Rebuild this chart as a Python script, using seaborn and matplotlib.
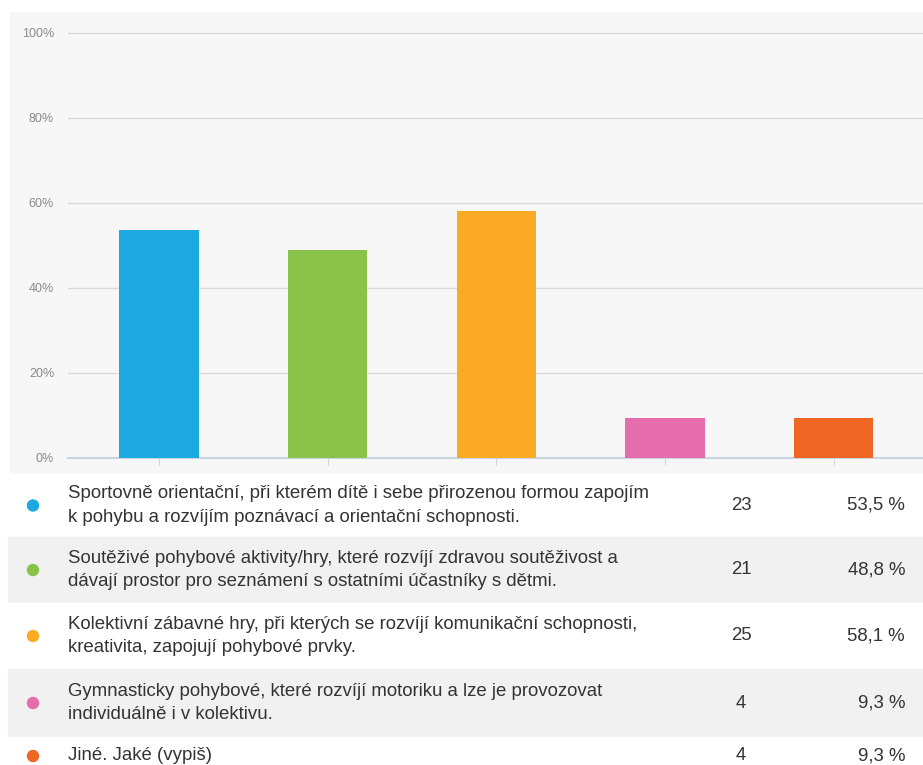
import matplotlib
matplotlib.use("Agg")
import matplotlib.pyplot as plt
import seaborn as sns
import pandas as pd
from matplotlib.patches import Rectangle, Ellipse

# ====== Data ======
answers = [
    "Sportovně orientační, při kterém dítě i sebe přirozenou formou zapojím\nk pohybu a rozvíjím poznávací a orientační schopnosti.",
    "Soutěživé pohybové aktivity/hry, které rozvíjí zdravou soutěživost a\ndávají prostor pro seznámení s ostatními účastníky s dětmi.",
    "Kolektivní zábavné hry, při kterých se rozvíjí komunikační schopnosti,\nkreativita, zapojují pohybové prvky.",
    "Gymnasticky pohybové, které rozvíjí motoriku a lze je provozovat\nindividuálně i v kolektivu.",
    "Jiné. Jaké (vypiš)",
]
counts = [23, 21, 25, 4, 4]
percent = [53.5, 48.8, 58.1, 9.3, 9.3]
percent_labels = ["53,5 %", "48,8 %", "58,1 %", "9,3 %", "9,3 %"]
colors = ["#1ea8e0", "#8bc34a", "#fbaa26", "#e66dac", "#f06725"]
y_ticks = [0, 20, 40, 60, 80, 100]

df = pd.DataFrame({"answer": answers, "percent": percent})

# ====== Figure ======
W, H = 923, 765
fig = plt.figure(figsize=(W / 100, H / 100), dpi=100)
fig.patch.set_facecolor("white")
plt.rcParams["font.family"] = ["Liberation Sans", "DejaVu Sans"]


def fx(px):
    return px / W


def fy(py):
    return 1 - py / H


# grey chart panel (behind the axes)
fig.patches.append(Rectangle((fx(10), fy(474)), fx(913), 462 / H,
                             transform=fig.transFigure, color="#f7f7f7", zorder=-5))

ax = fig.add_axes([fx(68), fy(458), fx(855), (458 - 24) / H])
ax.set_facecolor("none")
sns.barplot(data=df, x="answer", y="percent", hue="answer", palette=colors,
            width=0.47, saturation=1, legend=False, ax=ax, zorder=3)
ax.set_ylim(0, 102)
ax.set_xlim(-0.54, 4.53)
ax.set_yticks(y_ticks)
ax.set_yticklabels([f"{v}%" for v in y_ticks], color="#8a8a8a", fontsize=9)
ax.tick_params(axis="y", length=0, pad=10)
ax.tick_params(axis="x", length=5, color="#cfd8e3", labelbottom=False)
ax.set_xlabel("")
ax.set_ylabel("")
for v in y_ticks[1:]:
    ax.axhline(v, color="#dadada", lw=1, zorder=1)
for s in ["top", "right", "left"]:
    ax.spines[s].set_visible(False)
ax.spines["bottom"].set_color("#c9d4e2")
ax.spines["bottom"].set_linewidth(1.5)

# ====== Table below the chart ======
rows = [(474, 537), (537, 603), (603, 669), (669, 737), (737, 775)]
for i, (top, bottom) in enumerate(rows):
    fill = "#f1f1f1" if i % 2 == 1 else "white"
    fig.patches.append(Rectangle((fx(8), fy(bottom)), fx(915), (bottom - top) / H,
                                 transform=fig.transFigure, color=fill, zorder=-4))
    mid = (top + bottom) / 2 if i < 4 else 756
    fig.patches.append(Ellipse((fx(33), fy(mid)), 11 / W, 11 / H,
                               transform=fig.transFigure, color=colors[i], zorder=2))
    fig.text(fx(68), fy(mid), answers[i], ha="left", va="center", fontsize=13.4,
             color="#333333", linespacing=1.5)
    fig.text(fx(741), fy(mid), str(counts[i]), ha="center", va="center",
             fontsize=13.4, color="#333333")
    fig.text(fx(905), fy(mid), percent_labels[i], ha="right", va="center",
             fontsize=13.4, color="#333333")

fig.savefig("out.png", dpi=100)
